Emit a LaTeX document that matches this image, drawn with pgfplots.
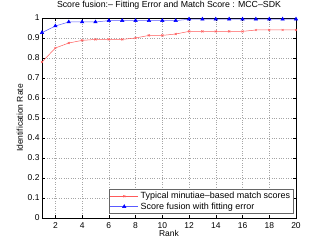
\documentclass[border=0pt]{standalone}
\usepackage{fontspec}
\setmainfont{Liberation Sans}
\usepackage{pgfplots}
\pgfplotsset{compat=1.18}
\definecolor{lred}{RGB}{255,90,90}
\definecolor{lblue}{RGB}{90,90,255}
\begin{document}
\begin{tikzpicture}
\useasboundingbox (-42bp,-28bp) rectangle (285bp,218bp);
\begin{axis}[
  scale only axis, width=254bp, height=200bp,
  xmin=1, xmax=20, ymin=0, ymax=1,
  xtick={2,4,...,20}, ytick={0,0.1,...,1},
  yticklabels={0,0.1,0.2,0.3,0.4,0.5,0.6,0.7,0.8,0.9,1},
  tick align=inside, major tick length=3bp,
  tick style={black, line width=0.4pt},
  grid=major, grid style={dotted, gray!70, line width=0.4pt},
  axis line style={black, line width=0.6pt},
  font=\fontsize{8.5}{10}\selectfont,
  tick label style={font=\fontsize{8.5}{10}\selectfont},
  /pgf/number format/assume math mode=true,
  xticklabel style={yshift=-1bp},
  yticklabel style={xshift=1bp},
  title={Score fusion:– Fitting Error and Match Score : MCC–SDK},
  title style={at={(0.5,1)}, anchor=south, yshift=-1bp, font=\fontsize{8.8}{10}\selectfont},
  xlabel={Rank}, ylabel={Identification Rate},
  xlabel style={yshift=5bp},
  ylabel style={yshift=-2bp},
  legend style={font=\fontsize{9}{9.5}\selectfont, draw=gray!80!black, line width=0.6pt, inner sep=1pt, row sep=-1.5pt, at={(0.99,0.02)}, anchor=south east},
  legend cell align=left,
  legend image code/.code={\draw[mark repeat=2,mark phase=2] plot coordinates {(0cm,0cm)(0.5cm,0cm)(1.0cm,0cm)};},
]
\addplot[lred, line width=0.5pt, mark=x, mark size=1.5pt, mark options={lred}] coordinates {
(1,0.78)(2,0.85)(3,0.875)(4,0.888)(5,0.893)(6,0.893)(7,0.893)(8,0.90)(9,0.913)(10,0.913)
(11,0.92)(12,0.933)(13,0.933)(14,0.933)(15,0.933)(16,0.933)(17,0.94)(18,0.94)(19,0.94)(20,0.94)};
\addlegendentry{Typical minutiae–based match scores}
\addplot[lblue, line width=0.5pt, mark=triangle*, mark size=2pt, mark options={blue, fill=blue}] coordinates {
(1,0.927)(2,0.96)(3,0.98)(4,0.98)(5,0.98)(6,0.987)(7,0.987)(8,0.987)(9,0.987)(10,0.987)
(11,0.987)(12,0.994)(13,0.994)(14,0.994)(15,0.994)(16,0.994)(17,0.994)(18,0.994)(19,0.994)(20,0.994)};
\addlegendentry{Score fusion with fitting error}
\end{axis}
\end{tikzpicture}
\end{document}
